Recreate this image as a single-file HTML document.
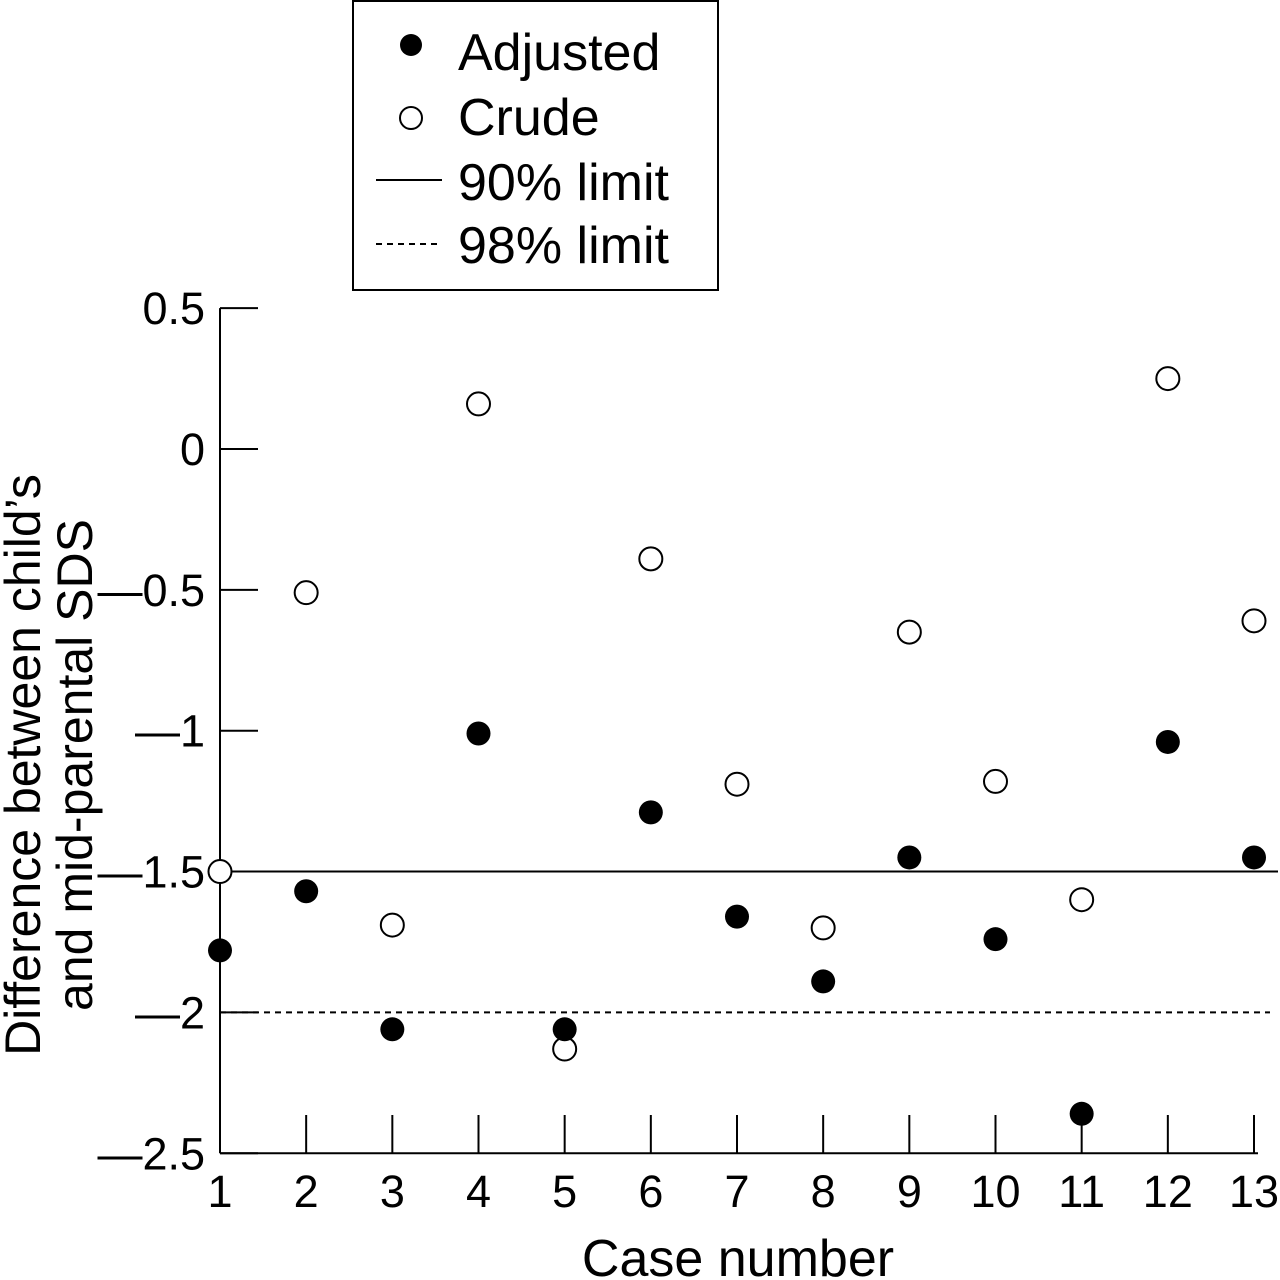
<!DOCTYPE html>
<html><head><meta charset="utf-8"><style>
body{margin:0;background:#fff}
svg{display:block;font-family:"Liberation Sans",Arial,sans-serif}
</style></head><body>
<svg id="chart" width="1280" height="1280" viewBox="0 0 1280 1280" xmlns="http://www.w3.org/2000/svg">
<g id="legend">
<rect x="353" y="1" width="365" height="289" fill="#fff" stroke="#000" stroke-width="2"/>
<circle cx="411" cy="45" r="11" fill="#000"/>
<text x="458" y="70" font-size="52">Adjusted</text>
<circle cx="411" cy="118" r="11" fill="#fff" stroke="#000" stroke-width="2"/>
<text x="458" y="135" font-size="52">Crude</text>
<line x1="376" y1="180" x2="442" y2="180" stroke="#000" stroke-width="2"/>
<text x="458" y="200" font-size="52">90% limit</text>
<line x1="376" y1="244" x2="442" y2="244" stroke="#000" stroke-width="2" stroke-dasharray="6,5"/>
<text x="458" y="263" font-size="52">98% limit</text>
</g>
<g id="axes"></g>
<g id="marks"></g>
<text transform="translate(40,765) rotate(-90)" text-anchor="middle" font-size="50"><tspan x="0" y="0">Difference between child’s</tspan><tspan x="0" y="52">and mid-parental SDS</tspan></text>
<text x="738" y="1276" text-anchor="middle" font-size="52">Case number</text>
</svg>
<script>
const cases = [1,2,3,4,5,6,7,8,9,10,11,12,13];
const adjusted = [-1.78,-1.57,-2.06,-1.01,-2.06,-1.29,-1.66,-1.89,-1.45,-1.74,-2.36,-1.04,-1.45];
const crude = [-1.50,-0.51,-1.69,0.16,-2.13,-0.39,-1.19,-1.70,-0.65,-1.18,-1.60,0.25,-0.61];
const yTicks = [0.5,0,-0.5,-1,-1.5,-2,-2.5];
const yTickLabels = ["0.5","0","\u20140.5","\u20141","\u20141.5","\u20142","\u20142.5"];
const limit90 = -1.5;
const limit98 = -2;

const NS="http://www.w3.org/2000/svg";
const X=c=>220+(c-1)*(1254-220)/12;
const Y=v=>449-v*281.7;
function mk(tag,attrs,parent,txt){const e=document.createElementNS(NS,tag);for(const k in attrs)e.setAttribute(k,attrs[k]);if(txt!==undefined)e.textContent=txt;parent.appendChild(e);return e;}
const ax=document.getElementById('axes'), mg=document.getElementById('marks');
let e=mk('line',{x1:220,y1:Y(0.5),x2:220,y2:Y(-2.5),stroke:'#000','stroke-width':2},ax);


e=mk('line',{x1:220,y1:Y(-2.5),x2:1258,y2:Y(-2.5),stroke:'#000','stroke-width':2},ax);


yTicks.forEach((v,i)=>{
 let t=mk('line',{x1:220,y1:Y(v),x2:258,y2:Y(v),stroke:'#000','stroke-width':2},ax);
 
 
 let tx=mk('text',{x:205,y:Y(v)+16,'font-size':45,'text-anchor':'end',fill:'#000'},ax,yTickLabels[i]);
 
 
});
cases.forEach(c=>{
 if(c>1){
 let t=mk('line',{x1:X(c),y1:1115,x2:X(c),y2:Y(-2.5),stroke:'#000','stroke-width':2},ax);
 
 
 }
 let tx=mk('text',{x:X(c),y:1207,'font-size':45,'text-anchor':'middle'},ax,String(c));
 
 
});
e=mk('line',{x1:220,y1:Y(limit90),x2:1278,y2:Y(limit90),stroke:'#000','stroke-width':2},mg);


e=mk('line',{x1:220,y1:Y(limit98),x2:1270,y2:Y(limit98),stroke:'#000','stroke-width':2,'stroke-dasharray':'6,5'},mg);


cases.forEach((c,i)=>{
 let p=mk('circle',{cx:X(c),cy:Y(crude[i]),r:11.5,fill:'#fff',stroke:'#000','stroke-width':2},mg);
 
 
 p=mk('circle',{cx:X(c),cy:Y(adjusted[i]),r:12,fill:'#000'},mg);
 
 
});
</script>
</body></html>
